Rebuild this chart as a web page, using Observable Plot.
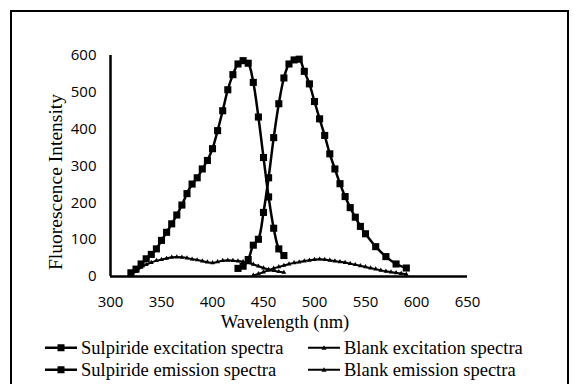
<!DOCTYPE html>
<html><head><meta charset="utf-8">
<script src="https://cdn.jsdelivr.net/npm/d3@7"></script>
<script src="https://cdn.jsdelivr.net/npm/@observablehq/plot@0.6"></script>
<style>
body{margin:0;background:#fff;}
#wrap{position:relative;width:574px;height:384px;overflow:hidden;background:#fff;}
#frame{position:absolute;left:10px;top:10px;width:555px;height:400px;border:2px solid #000;}
#chart{position:absolute;left:0;top:0;}
.serif{font-family:"Liberation Serif","Times New Roman",serif;color:#000;position:absolute;white-space:nowrap;line-height:1;}
.leg{display:flex;align-items:center;font-size:18.5px;}
.leg svg{margin-right:4px;}
</style></head>
<body>
<div id="wrap">
  <div id="frame"></div>
  <div id="chart"></div>
  <div class="serif" id="ytitle" style="font-size:19.5px;left:56px;top:182px;transform:translate(-50%,-50%) rotate(-90deg);">Fluorescence Intensity</div>
  <div class="serif" id="xtitle" style="font-size:18.5px;left:285px;top:322px;transform:translate(-50%,-50%);">Wavelength (nm)</div>
  <div id="legend"></div>
</div>
<script>
// ---- data ----
const xTicks = [300, 350, 400, 450, 500, 550, 600, 650];
const yTicks = [0, 100, 200, 300, 400, 500, 600];

const seriesNames = ["Sulpiride excitation spectra", "Blank excitation spectra", "Sulpiride emission spectra", "Blank emission spectra"];

const excWavelength = [320,325,330,335,340,345,350,355,360,365,370,375,380,385,390,395,400,405,410,415,420,425,430,435,440,445,450,455,460,465,470];
const sulpirideExcitation = [10,20,34,48,60,75,98,120,143,167,194,225,251,268,292,315,347,396,450,507,548,577,586,579,527,433,323,216,131,75,57];

const emWavelength = [425,430,435,440,445,450,455,460,465,470,475,480,485,490,495,500,505,510,515,520,525,530,535,540,545,550,560,570,580,590];
const sulpirideEmission = [22,28,46,85,101,174,268,377,469,539,577,588,590,557,523,475,428,383,333,292,252,217,187,161,136,116,81,54,34,23];

const blankExcWavelength = [320,325,330,335,340,345,350,355,360,365,370,375,380,385,390,395,400,405,410,415,420,425,430,435,440,445,450,455,460,465,470];
const blankExcitation = [4,14,25,32,38,43,46,49,52,53,52,50,47,45,42,39,37,40,43,44,43,42,40,37,33,28,23,19,16,13,11];

const blankEmWavelength = [440,445,450,455,460,465,470,475,480,485,490,495,500,505,510,515,520,525,530,535,540,545,550,555,560,565,570,575,580,585,590];
const blankEmission = [3,7,12,17,22,26,30,34,37,39,42,44,46,47,46,44,42,40,38,35,32,29,26,23,20,17,14,12,10,8,6];

const toRows = (xs, ys) => xs.map((w, i) => ({w, v: ys[i]}));
const sExc = toRows(excWavelength, sulpirideExcitation);
const sEm = toRows(emWavelength, sulpirideEmission);
const bExc = toRows(blankExcWavelength, blankExcitation);
const bEm = toRows(blankEmWavelength, blankEmission);

const chart = Plot.plot({
  width: 574, height: 384,
  marginLeft: 110, marginRight: 107, marginTop: 55, marginBottom: 108,
  style: {fontFamily: '"Open Sans", sans-serif', fontSize: "15px", background: "transparent", color: "#000", overflow: "visible"},
  x: {domain: [300, 650], ticks: xTicks, tickSize: 0, tickPadding: 20, label: null, tickFormat: d => String(d)},
  y: {domain: [0, 600], ticks: yTicks, tickSize: 0, tickPadding: 14, label: null, tickFormat: d => String(d)},
  marks: [
    Plot.ruleY([0], {x1: 300, x2: 650, stroke: "#000", strokeWidth: 2.5}),
    Plot.ruleX([300], {y1: 0, y2: 600, stroke: "#000", strokeWidth: 2.5}),
    Plot.line(bExc, {x: "w", y: "v", curve: "catmull-rom", stroke: "#000", strokeWidth: 2}),
    Plot.dot(bExc, {x: "w", y: "v", symbol: "triangle", r: 1.8, fill: "#000", stroke: null}),
    Plot.line(bEm, {x: "w", y: "v", curve: "catmull-rom", stroke: "#000", strokeWidth: 2}),
    Plot.dot(bEm, {x: "w", y: "v", symbol: "triangle", r: 1.8, fill: "#000", stroke: null}),
    Plot.line(sExc, {x: "w", y: "v", curve: "catmull-rom", stroke: "#000", strokeWidth: 2.5}),
    Plot.dot(sExc, {x: "w", y: "v", symbol: "square", r: 4, fill: "#000", stroke: null}),
    Plot.line(sEm, {x: "w", y: "v", curve: "catmull-rom", stroke: "#000", strokeWidth: 2.5}),
    Plot.dot(sEm, {x: "w", y: "v", symbol: "square", r: 4, fill: "#000", stroke: null})
  ]
});
document.getElementById("chart").appendChild(chart);

// legend (Excel fills row by row)
const legendPos = [
  {left: 45, top: 348}, {left: 308, top: 348},
  {left: 45, top: 370}, {left: 308, top: 370}
];
const legend = document.getElementById("legend");
seriesNames.forEach((name, i) => {
  const square = i % 2 === 0;
  const item = document.createElement("div");
  item.className = "serif leg";
  item.style.left = legendPos[i].left + "px";
  item.style.top = legendPos[i].top + "px";
  item.style.transform = "translateY(-50%)";
  const marker = square
    ? '<rect x="12.5" y="2.5" width="7" height="7" fill="#000"/>'
    : '<path d="M16,3.5 L18.5,8 L13.5,8 Z" fill="#000"/>';
  item.innerHTML = `<svg width="32" height="12" viewBox="0 0 32 12"><line x1="0" y1="6" x2="32" y2="6" stroke="#000" stroke-width="${square ? 2.5 : 2}"/>${marker}</svg><span>${name}</span>`;
  legend.appendChild(item);
});
</script>
</body></html>
